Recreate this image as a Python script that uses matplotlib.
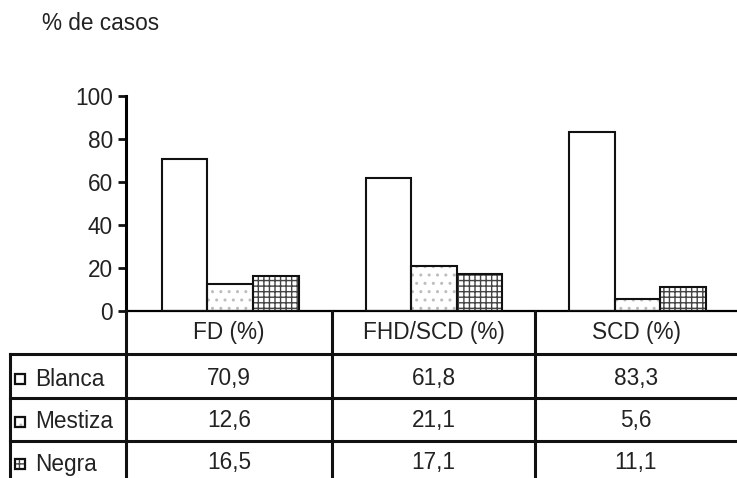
import matplotlib
matplotlib.use("Agg")
import matplotlib.pyplot as plt
from matplotlib.lines import Line2D
from matplotlib.patches import Rectangle
import numpy as np

categories = ["FD (%)", "FHD/SCD (%)", "SCD (%)"]
series_names = ["Blanca", "Mestiza", "Negra"]
blanca = [70.9, 61.8, 83.3]
mestiza = [12.6, 21.1, 5.6]
negra = [16.5, 17.1, 11.1]
value_labels = [["70,9", "61,8", "83,3"],
                ["12,6", "21,1", "5,6"],
                ["16,5", "17,1", "11,1"]]
y_ticks = [0, 20, 40, 60, 80, 100]
y_label = "% de casos"

W, H = 737, 478
DPI = 100
FONT = "Liberation Sans"
FS = 16.3

plt.rcParams["font.family"] = [FONT, "DejaVu Sans"]
plt.rcParams["hatch.linewidth"] = 1.0

fig = plt.figure(figsize=(W / DPI, H / DPI), dpi=DPI)


def fx(px):
    return px / W


def fy(py):
    return 1 - py / H


# chart area in pixel terms
x_left, x_right = 126, 737
y_top, y_zero = 96, 311
ax = fig.add_axes([fx(x_left), fy(y_zero), fx(x_right - x_left), (y_zero - y_top) / H])
ax.set_xlim(-0.5, 2.5)
ax.set_ylim(0, 100)

styles = [
    dict(hatch=None, hc="white"),
    dict(hatch="..", hc="#bdbdbd"),
    dict(hatch="+++", hc="#444444"),
]
series = [blanca, mestiza, negra]
bw = 0.224
shift = 0.012
x = np.arange(len(categories))
for i, (vals, st) in enumerate(zip(series, styles)):
    pos = x + shift + (i - 1) * bw
    if st["hatch"]:
        ax.bar(pos, vals, bw, color="white", edgecolor=st["hc"], linewidth=0,
               hatch=st["hatch"], zorder=2)
    ax.bar(pos, vals, bw, fill=False, edgecolor="#111111", linewidth=1.5, zorder=3)

for s in ["top", "right"]:
    ax.spines[s].set_visible(False)
ax.spines["left"].set_linewidth(2.2)
ax.spines["bottom"].set_linewidth(1.6)
ax.set_xticks([])
ax.set_yticks(y_ticks)
ax.tick_params(axis="y", length=6, width=2, pad=3.5, labelsize=FS, colors="#111111")
for t in ax.get_yticklabels():
    t.set_color("#222222")

fig.text(fx(42), fy(24), y_label, fontsize=FS, ha="left", va="center", color="#222222")

# table grid
lw = 2.2
col_edges = [332, 535]
row_lines = [354, 398, 441]


def hline(yp, x0, x1):
    fig.add_artist(Line2D([fx(x0), fx(x1)], [fy(yp), fy(yp)], color="#111111",
                          linewidth=lw, transform=fig.transFigure))


def vline(xp, y0, y1):
    fig.add_artist(Line2D([fx(xp), fx(xp)], [fy(y0), fy(y1)], color="#111111",
                          linewidth=lw, transform=fig.transFigure))


for yp in row_lines:
    hline(yp, 10, W)
vline(10, 354, H)
vline(x_left, y_zero, H)
for xp in col_edges:
    vline(xp, y_zero, H)

col_centers = [(x_left + col_edges[0]) / 2, (col_edges[0] + col_edges[1]) / 2,
               (col_edges[1] + W) / 2]
header_y = 332
for cx, name in zip(col_centers, categories):
    fig.text(fx(cx), fy(header_y), name, fontsize=FS, ha="center", va="center",
             color="#222222")

row_centers = [378, 421, 463]
for r, (ry, name, st) in enumerate(zip(row_centers, series_names, styles)):
    sq = 10
    y0 = ry + 1
    if st["hatch"]:
        fig.add_artist(Rectangle((fx(15), fy(y0 + sq / 2)), fx(sq), sq / H,
                                 facecolor="white", edgecolor=st["hc"], linewidth=0,
                                 hatch=st["hatch"], transform=fig.transFigure))
    fig.add_artist(Rectangle((fx(15), fy(y0 + sq / 2)), fx(sq), sq / H,
                             fill=False, edgecolor="#111111", linewidth=1.6,
                             transform=fig.transFigure))
    fig.text(fx(35), fy(ry + 1), name, fontsize=FS, ha="left", va="center",
             color="#222222")
    for cx, lab in zip(col_centers, value_labels[r]):
        fig.text(fx(cx), fy(ry), lab, fontsize=FS, ha="center", va="center",
                 color="#222222")

fig.savefig("out.png", dpi=DPI)
